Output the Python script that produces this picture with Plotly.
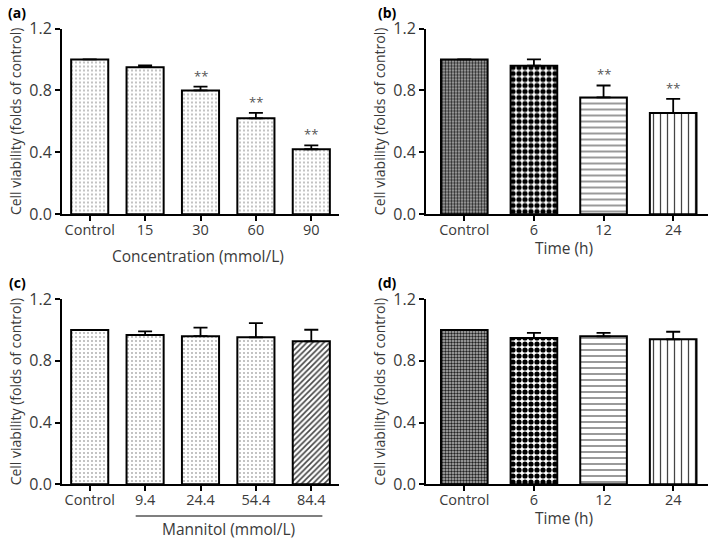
import plotly.graph_objects as go

# ---------------- data ----------------
a_cats = ["Control", "15", "30", "60", "90"]
a_vals = [1.0, 0.95, 0.80, 0.62, 0.42]
a_err = [0.0, 0.012, 0.025, 0.035, 0.025]
a_sig = ["", "", "**", "**", "**"]

b_cats = ["Control", "6", "12", "24"]
b_vals = [1.0, 0.96, 0.755, 0.655]
b_err = [0.0, 0.04, 0.077, 0.09]
b_sig = ["", "", "**", "**"]

c_cats = ["Control", "9.4", "24.4", "54.4", "84.4"]
c_vals = [1.0, 0.967, 0.959, 0.952, 0.926]
c_err = [0.0, 0.023, 0.055, 0.092, 0.075]

d_cats = ["Control", "6", "12", "24"]
d_vals = [1.0, 0.947, 0.958, 0.939]
d_err = [0.0, 0.034, 0.023, 0.049]

y_ticks = [0.0, 0.4, 0.8, 1.2]
y_tick_text = ["0.0", "0.4", "0.8", "1.2"]

FONT = "Open Sans"
TXT = "#3a3a3a"

# patterns
dots = dict(shape=".", fgcolor="#a8a8a8", bgcolor="white", size=4, solidity=0.16, fgopacity=1)
time_pat = dict(
    shape=[".", ".", "-", "|"],
    fgcolor=["#222222", "black", "#444444", "#444444"],
    bgcolor=["#b8b8b8", "white", "white", "white"],
    size=[3, 6, 6, 7],
    solidity=[0.5, 0.6, 0.18, 0.18],
    fgopacity=1,
)
c_pat = dict(
    shape=[".", ".", ".", ".", "/"],
    fgcolor=["#a8a8a8"] * 4 + ["#444444"],
    bgcolor="white",
    size=[4, 4, 4, 4, 4],
    solidity=[0.16, 0.16, 0.16, 0.16, 0.4],
    fgopacity=1,
)


def bar(cats, vals, errs, pattern, xa, ya):
    return go.Bar(
        x=cats, y=vals, xaxis=xa, yaxis=ya, width=0.67,
        marker=dict(color="white", line=dict(color="black", width=2), pattern=pattern),
        error_y=dict(type="data", array=errs, arrayminus=[0] * len(errs),
                     color="black", thickness=1.8, width=7),
        showlegend=False, hoverinfo="skip",
    )


fig = go.Figure()
fig.add_trace(bar(a_cats, a_vals, a_err, dots, "x", "y"))
fig.add_trace(bar(b_cats, b_vals, b_err, time_pat, "x2", "y2"))
fig.add_trace(bar(c_cats, c_vals, c_err, c_pat, "x3", "y3"))
fig.add_trace(bar(d_cats, d_vals, d_err, time_pat, "x4", "y4"))

W, H = 709, 540
ax_left_a = 62 / W
ax_right_a = 339 / W
ax_left_b = 426 / W
ax_right_b = 708 / W

ydom_top = [1 - 214.3 / H, 1 - 28.5 / H]
ydom_bot = [1 - 484.3 / H, 1 - 299 / H]

xcommon = dict(
    showline=True, linecolor="black", linewidth=2, ticks="outside", ticklen=5,
    tickwidth=1.5, tickcolor="black", showgrid=False, zeroline=False,
    tickfont=dict(family=FONT, size=14.5, color=TXT), type="category",
    fixedrange=True, automargin=False, ticklabelstandoff=-4,
)
ycommon = dict(
    showline=True, linecolor="black", linewidth=2, ticks="outside", ticklen=5,
    tickwidth=1.5, tickcolor="black", showgrid=False, zeroline=False,
    range=[0, 1.2], tickvals=y_ticks, ticktext=y_tick_text,
    tickfont=dict(family=FONT, size=16, color=TXT),
    title=dict(text="Cell viability (folds of control)", font=dict(family=FONT, size=14, color=TXT), standoff=4),
    fixedrange=True, automargin=False,
)
xtitle_font = dict(family=FONT, size=15.5, color=TXT)

fig.update_layout(
    width=W, height=H, margin=dict(l=0, r=0, t=0, b=0),
    paper_bgcolor="white", plot_bgcolor="white", bargap=0.33,
    xaxis=dict(xcommon, domain=[ax_left_a, ax_right_a], anchor="y", range=[-0.5, 4.5]),
    yaxis=dict(ycommon, domain=ydom_top, anchor="x"),
    xaxis2=dict(xcommon, domain=[ax_left_b, ax_right_b], anchor="y2", range=[-0.55, 3.5]),
    yaxis2=dict(ycommon, domain=ydom_top, anchor="x2"),
    xaxis3=dict(xcommon, domain=[ax_left_a, ax_right_a], anchor="y3", range=[-0.5, 4.5]),
    yaxis3=dict(ycommon, domain=ydom_bot, anchor="x3"),
    xaxis4=dict(xcommon, domain=[ax_left_b, ax_right_b], anchor="y4", range=[-0.55, 3.5]),
    yaxis4=dict(ycommon, domain=ydom_bot, anchor="x4"),
)

# x-axis titles
for txt, x, y in [("Concentration (mmol/L)", 197.5, 256), ("Time (h)", 564, 248), ("Time (h)", 564, 518)]:
    fig.add_annotation(x=x / W, y=1 - y / H, xref="paper", yref="paper", text=txt,
                       showarrow=False, xanchor="center", yanchor="middle", font=xtitle_font)

# significance marks (x given as category index)
for vals, errs, sig, xa, ya in [
    (a_vals, a_err, a_sig, "x", "y"),
    (b_vals, b_err, b_sig, "x2", "y2"),
]:
    for i, (v, e, s) in enumerate(zip(vals, errs, sig)):
        if s:
            fig.add_annotation(x=i, y=v + e, xref=xa, yref=ya, text=s, showarrow=False,
                               yanchor="bottom", yshift=0,
                               font=dict(family=FONT, size=13, color="#555555"))

# panel labels
for lab, x, y in [("(a)", 17, 12), ("(b)", 387, 12), ("(c)", 17, 282), ("(d)", 387, 282)]:
    fig.add_annotation(x=x / W, y=1 - y / H, xref="paper", yref="paper", text="<b>" + lab + "</b>",
                       showarrow=False, xanchor="center", yanchor="middle",
                       font=dict(family=FONT, size=14, color="black"))

# Mannitol bracket for panel (c)
fig.add_shape(type="line", xref="x3", yref="paper", x0=0.83, x1=4.2,
              y0=1 - 516 / H, y1=1 - 516 / H, line=dict(color="black", width=1.2))
fig.add_annotation(x=2.5, y=1 - 529 / H, xref="x3", yref="paper", text="Mannitol (mmol/L)",
                   showarrow=False, xanchor="center", yanchor="middle", font=xtitle_font)

fig.write_html("out.html", config={"displayModeBar": False},
               post_script="document.body.style.margin='0px';document.body.style.overflow='hidden';")
